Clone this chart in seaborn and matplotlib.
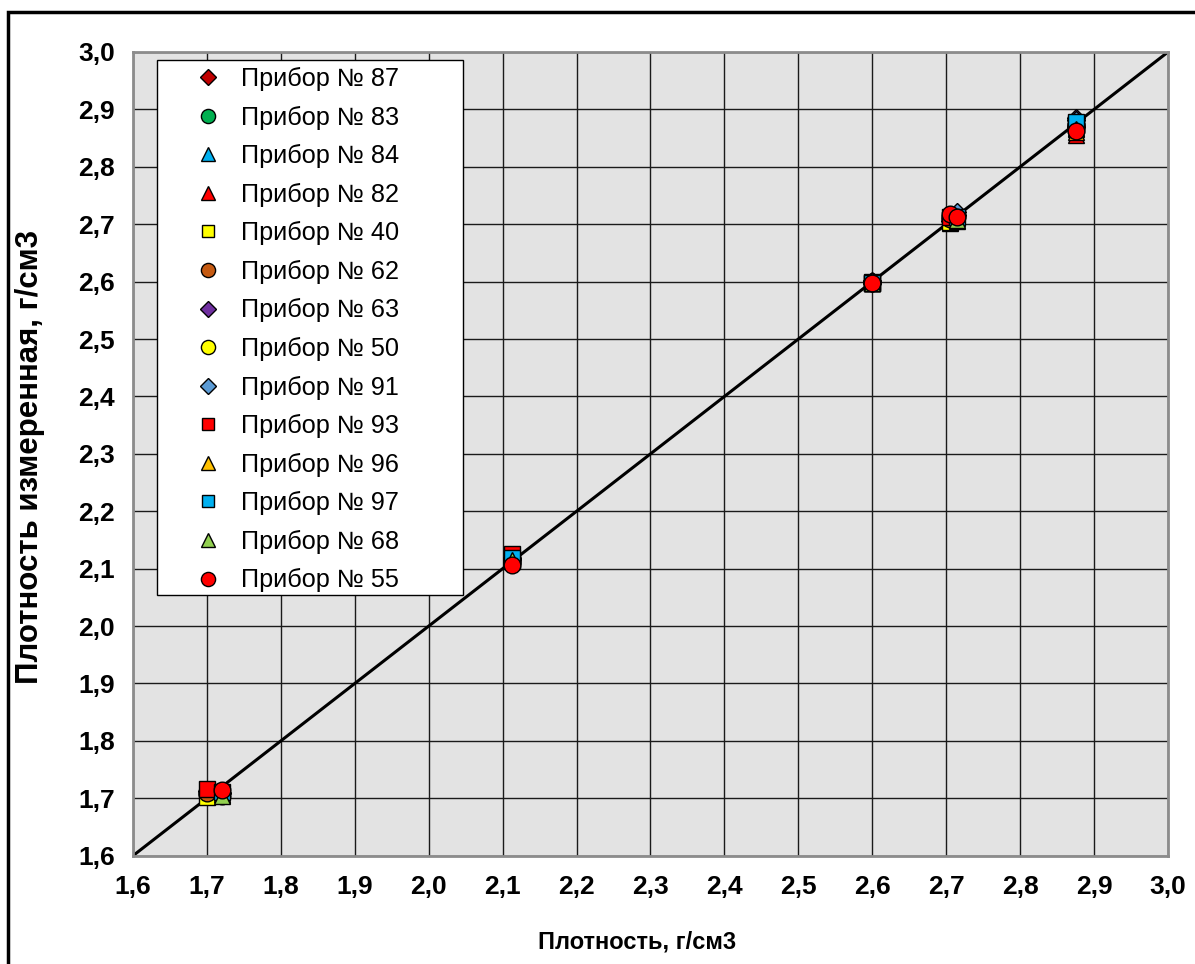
import numpy as np
import pandas as pd
import matplotlib
matplotlib.use("Agg")
import matplotlib.pyplot as plt
from matplotlib.ticker import FuncFormatter, MultipleLocator
from matplotlib.patches import Rectangle
import seaborn as sns

# Reference densities of the test samples, g/cm3
ref_a = [1.700, 2.113, 2.600, 2.705, 2.875]
ref_b = [1.720, 2.113, 2.600, 2.715, 2.875]

devices = ["Прибор № 87", "Прибор № 83", "Прибор № 84", "Прибор № 82",
           "Прибор № 40", "Прибор № 62", "Прибор № 63", "Прибор № 50",
           "Прибор № 91", "Прибор № 93", "Прибор № 96", "Прибор № 97",
           "Прибор № 68", "Прибор № 55"]

# Reference value per sample and measured value per device
ref_87 = ref_a; meas_87 = [1.712, 2.118, 2.598, 2.706, 2.870]
ref_83 = ref_a; meas_83 = [1.708, 2.112, 2.600, 2.712, 2.872]
ref_84 = ref_b; meas_84 = [1.705, 2.120, 2.598, 2.710, 2.868]
ref_82 = ref_a; meas_82 = [1.706, 2.115, 2.597, 2.702, 2.855]
ref_40 = ref_a; meas_40 = [1.702, 2.114, 2.599, 2.703, 2.874]
ref_62 = ref_a; meas_62 = [1.710, 2.116, 2.600, 2.709, 2.870]
ref_63 = ref_b; meas_63 = [1.709, 2.117, 2.601, 2.716, 2.885]
ref_50 = ref_b; meas_50 = [1.704, 2.112, 2.599, 2.714, 2.872]
ref_91 = ref_b; meas_91 = [1.710, 2.116, 2.600, 2.721, 2.882]
ref_93 = ref_a; meas_93 = [1.716, 2.126, 2.598, 2.712, 2.872]
ref_96 = ref_b; meas_96 = [1.708, 2.116, 2.597, 2.706, 2.860]
ref_97 = ref_b; meas_97 = [1.711, 2.119, 2.598, 2.713, 2.878]
ref_68 = ref_b; meas_68 = [1.704, 2.115, 2.598, 2.708, 2.865]
ref_55 = [1.720, 2.113, 2.600, 2.705, 2.715, 2.875]
meas_55 = [1.714, 2.106, 2.597, 2.718, 2.712, 2.863]

refs = [ref_87, ref_83, ref_84, ref_82, ref_40, ref_62, ref_63, ref_50,
        ref_91, ref_93, ref_96, ref_97, ref_68, ref_55]
meas = [meas_87, meas_83, meas_84, meas_82, meas_40, meas_62, meas_63, meas_50,
        meas_91, meas_93, meas_96, meas_97, meas_68, meas_55]

colors = ["#C00000", "#00B050", "#00B0F0", "#FF0000", "#FFFF00", "#C55A11",
          "#7030A0", "#FFFF00", "#5B9BD5", "#FF0000", "#FFC000", "#00B0F0",
          "#92D050", "#FF0000"]
markers = ["D", "o", "^", "^", "s", "o", "D", "o", "D", "s", "^", "s", "^", "o"]
sizes = [9, 12, 12, 12, 11, 12, 9, 12, 9, 11, 12, 11, 12, 12]

rows = []
for name, xs, ys in zip(devices, refs, meas):
    for xv, yv in zip(xs, ys):
        rows.append((name, xv, yv))
df = pd.DataFrame(rows, columns=["device", "ref", "meas"])

sns.set_theme(style="white")
plt.rcParams["font.family"] = ["Liberation Sans", "DejaVu Sans"]
plt.rcParams["text.color"] = "black"

W, H = 1195, 964
fig = plt.figure(figsize=(W / 100, H / 100), dpi=100)
ax_l, ax_r, ax_t, ax_b = 133, 1168, 52, 855.7
ax = fig.add_axes([ax_l / W, 1 - ax_b / H, (ax_r - ax_l) / W, (ax_b - ax_t) / H])
ax.set_facecolor("#E3E3E3")

# 1:1 line
sns.lineplot(x=[1.6, 3.0], y=[1.6, 3.0], ax=ax, color="black", linewidth=2.2,
             legend=False, zorder=2)

for name, c, m, s in zip(devices, colors, markers, sizes):
    sub = df[df["device"] == name]
    ax.plot(sub["ref"], sub["meas"], linestyle="none", marker=m, markersize=s,
            markerfacecolor=c, markeredgecolor="black", markeredgewidth=1.0,
            label=name, zorder=3)

ax.set_xlim(1.6, 3.0)
ax.set_ylim(1.6, 3.0)
ax.xaxis.set_major_locator(MultipleLocator(0.1))
ax.yaxis.set_major_locator(MultipleLocator(0.1))
fmt = FuncFormatter(lambda v, p: f"{v:.1f}".replace(".", ","))
ax.xaxis.set_major_formatter(fmt)
ax.yaxis.set_major_formatter(fmt)
ax.grid(True, color="#1a1a1a", linewidth=1.0, zorder=1)
ax.set_axisbelow(True)
for sp in ax.spines.values():
    sp.set_color("#8c8c8c")
    sp.set_linewidth(2)
ax.tick_params(axis="both", length=0, labelsize=19, labelcolor="black")
ax.tick_params(axis="x", pad=14)
ax.tick_params(axis="y", pad=13)
for lab in ax.get_xticklabels() + ax.get_yticklabels():
    lab.set_fontweight("bold")

ax.set_xlabel("Плотность, г/см3", fontsize=17, fontweight="bold", color="black")
ax.xaxis.set_label_coords((637 - ax_l) / (ax_r - ax_l), -(942 - ax_b) / (ax_b - ax_t),
                          transform=ax.transAxes)
ax.xaxis.label.set_va("center")
ax.set_ylabel("Плотность измеренная, г/см3", fontsize=22.5, fontweight="bold",
              color="black")
ax.yaxis.set_label_coords(-(ax_l - 30) / (ax_r - ax_l), (ax_b - 457) / (ax_b - ax_t),
                          transform=ax.transAxes)
ax.yaxis.label.set_va("center")

# legend box drawn as its own rectangle, entries placed inside it
def to_ax(px, py):
    return (px - ax_l) / (ax_r - ax_l), (ax_b - py) / (ax_b - ax_t)

bx0, by0 = to_ax(157, 595)
bx1, by1 = to_ax(463, 60)
ax.add_patch(Rectangle((bx0, by0), bx1 - bx0, by1 - by0, transform=ax.transAxes,
                       facecolor="white", edgecolor="black", linewidth=1.0,
                       zorder=4))

lx, ly = to_ax(182, 67)
leg = ax.legend(loc="upper left", bbox_to_anchor=(lx, ly), fontsize=18.2,
                frameon=False, labelspacing=0.575, handlelength=2.05,
                handletextpad=0.28, borderpad=0.0, borderaxespad=0)
leg.set_zorder(5)
for h in leg.legend_handles:
    h.set_markersize(h.get_markersize() * 0.85)

# outer frame of the chart area
fig.patches.append(Rectangle((8 / W, -0.2), 1.3, 0.2 + 1 - 12 / H,
                             transform=fig.transFigure, fill=False,
                             edgecolor="black", linewidth=2.5, zorder=0))

fig.savefig("out.png", dpi=100, facecolor="white")
